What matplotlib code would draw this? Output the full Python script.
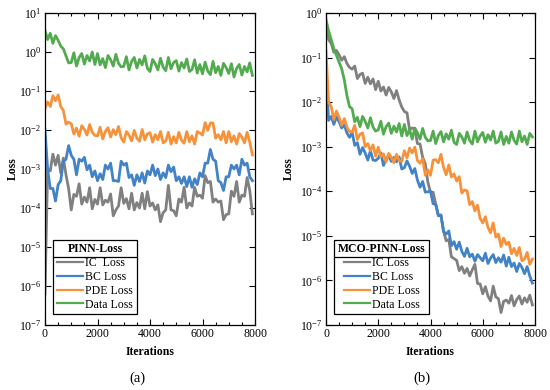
import numpy as np
import matplotlib
matplotlib.use("Agg")
import matplotlib.pyplot as plt
from matplotlib.ticker import LogLocator, LogFormatterSciNotation, MultipleLocator, NullLocator
from matplotlib.lines import Line2D

plt.rcParams['font.family'] = ['Liberation Serif', 'DejaVu Serif']
plt.rcParams['mathtext.fontset'] = 'stix'

# ---------------- data (log10 of loss) ----------------
iterations = np.arange(0, 8000, 100)

pinn_ic_log10 = [
    -6.2, -3.0, -3.05, -2.62, -2.9, -2.65, -3.1, -2.72, -3.15, -3.5,
    -4.05, -3.65, -3.7, -3.38, -3.9, -3.72, -3.85, -3.48, -4.02, -3.78,
    -3.9, -3.48, -3.92, -3.8, -3.85, -3.64, -4.2, -4.05, -3.95, -3.48,
    -3.88, -3.76, -4.02, -3.62, -4.05, -3.86, -4.0, -3.62, -4.02, -3.58,
    -3.95, -3.87, -4.05, -3.92, -4.35, -4.12, -4.05, -3.42, -4.05, -4.07,
    -4.2, -3.77, -3.85, -3.47, -4.0, -3.87, -3.95, -3.47, -3.7, -3.67,
    -3.75, -3.17, -3.35, -3.32, -3.85, -3.77, -3.85, -3.82, -4.3, -4.17,
    -4.15, -3.57, -3.7, -3.32, -3.85, -3.67, -3.7, -3.22, -3.55, -4.15]
pinn_bc_log10 = [
    -2.0, -3.0, -3.5, -3.5, -3.82, -3.4, -3.3, -2.8, -2.75, -2.4,
    -2.65, -2.75, -3.15, -2.75, -2.8, -2.7, -3.02, -2.9, -3.2, -3.05,
    -3.3, -3.12, -3.27, -2.9, -3.0, -2.85, -3.3, -3.3, -3.32, -2.8,
    -2.9, -2.85, -3.22, -3.15, -3.42, -3.15, -3.32, -3.1, -3.36, -3.05,
    -3.15, -2.9, -3.17, -3.0, -3.27, -3.1, -3.22, -2.9, -3.07, -2.95,
    -3.3, -3.2, -3.37, -3.2, -3.45, -3.2, -3.47, -3.25, -3.4, -3.1,
    -3.2, -2.85, -2.85, -2.5, -2.75, -2.8, -3.3, -3.35, -3.55, -3.2,
    -3.2, -2.9, -3.0, -2.9, -3.15, -2.75, -2.9, -2.85, -3.2, -3.3]
pinn_pde_log10 = [
    -1.45, -1.28, -1.4, -1.12, -1.25, -1.1, -1.4, -1.5, -1.85, -1.8,
    -1.84, -2.1, -1.95, -2.16, -1.89, -1.98, -2.13, -1.86, -2.06, -2.14,
    -2.15, -1.93, -2.23, -2.04, -1.94, -2.18, -1.99, -2.12, -1.91, -2.2,
    -2.31, -2.04, -2.13, -2.28, -2.01, -2.21, -2.29, -1.99, -2.25, -2.1,
    -2.07, -2.31, -2.12, -2.25, -2.04, -2.33, -2.28, -2.06, -2.36, -2.17,
    -2.33, -2.06, -2.26, -2.34, -2.04, -2.3, -2.15, -2.36, -2.04, -2.08,
    -2.13, -1.81, -2.01, -1.82, -1.82, -2.21, -2.12, -2.25, -2.04, -2.33,
    -2.04, -2.3, -2.15, -2.36, -2.09, -2.18, -2.33, -2.06, -2.31, -2.64]
pinn_data_log10 = [
    0.55, 0.32, 0.48, 0.22, 0.42, 0.3, 0.15, 0.08, -0.1, -0.28,
    -0.27, -0.02, -0.36, -0.14, -0.04, -0.31, -0.09, -0.23, 0.0, -0.32,
    -0.04, -0.33, -0.17, -0.4, -0.09, -0.2, -0.36, -0.06, -0.29, -0.38,
    -0.37, -0.12, -0.46, -0.24, -0.14, -0.41, -0.19, -0.33, -0.1, -0.42,
    -0.5, -0.19, -0.3, -0.46, -0.16, -0.39, -0.48, -0.14, -0.43, -0.27,
    -0.22, -0.49, -0.27, -0.41, -0.18, -0.5, -0.45, -0.2, -0.54, -0.32,
    -0.56, -0.26, -0.49, -0.58, -0.24, -0.53, -0.37, -0.6, -0.29, -0.4,
    -0.55, -0.3, -0.64, -0.42, -0.32, -0.59, -0.37, -0.51, -0.28, -0.6]

mco_ic_log10 = [
    -0.22, -0.6, -0.68, -0.88, -0.84, -0.94, -1.06, -0.98, -1.13, -1.22,
    -1.26, -1.19, -1.47, -1.38, -1.35, -1.58, -1.44, -1.59, -1.48, -1.72,
    -1.53, -1.75, -1.66, -1.84, -1.67, -1.77, -1.92, -1.74, -1.95, -2.11,
    -2.21, -2.24, -2.62, -2.58, -2.6, -2.93, -2.94, -3.24, -3.38, -3.8,
    -4.02, -4.02, -4.29, -4.55, -4.54, -4.9, -5.11, -5.08, -5.47, -5.51,
    -5.55, -5.78, -5.69, -5.84, -5.73, -5.9, -5.76, -5.64, -6.07, -6.08,
    -6.3, -6.14, -6.35, -6.46, -6.13, -6.37, -6.41, -6.72, -6.47, -6.44,
    -6.51, -6.34, -6.57, -6.43, -6.35, -6.53, -6.39, -6.49, -6.33, -6.55]
mco_bc_log10 = [
    -1.3, -2.41, -2.32, -2.5, -2.33, -2.44, -2.58, -2.51, -2.69, -2.79,
    -2.68, -2.97, -2.91, -3.17, -3.02, -3.14, -3.3, -3.09, -3.3, -3.31,
    -3.26, -3.14, -3.42, -3.28, -3.2, -3.33, -3.24, -3.34, -3.23, -3.5,
    -3.47, -3.32, -3.44, -3.6, -3.49, -3.75, -3.91, -3.78, -4.02, -4.01,
    -4.0, -4.28, -4.29, -4.54, -4.53, -4.9, -4.96, -4.89, -5.22, -5.13,
    -5.3, -5.14, -5.35, -5.46, -5.28, -5.47, -5.41, -5.57, -5.42, -5.49,
    -5.56, -5.39, -5.62, -5.5, -5.42, -5.6, -5.49, -5.59, -5.43, -5.68,
    -5.48, -5.69, -5.61, -5.8, -5.62, -5.71, -5.85, -5.69, -5.9, -6.06]
mco_pde_log10 = [
    -0.85, -2.0, -2.1, -2.39, -2.2, -2.34, -2.52, -2.37, -2.56, -2.66,
    -2.67, -2.52, -2.84, -2.72, -2.69, -3.0, -2.93, -3.09, -2.96, -3.21,
    -3.01, -3.23, -3.16, -3.34, -3.15, -3.24, -3.36, -3.17, -3.31, -3.33,
    -3.09, -3.25, -3.03, -3.14, -3.01, -3.31, -3.37, -3.27, -3.64, -3.52,
    -3.64, -3.3, -3.29, -3.36, -3.17, -3.46, -3.63, -3.41, -3.68, -3.61,
    -3.77, -3.67, -4.04, -3.97, -3.99, -4.3, -4.23, -4.44, -4.31, -4.61,
    -4.71, -4.57, -4.81, -4.93, -4.71, -5.03, -4.96, -5.24, -5.05, -5.19,
    -5.14, -5.4, -5.28, -5.44, -5.26, -5.56, -5.52, -5.37, -5.64, -5.52]
mco_data_log10 = [
    -0.15, -0.4, -0.6, -0.8, -0.95, -1.1, -1.25, -1.5, -1.85, -2.1,
    -2.15, -2.44, -2.34, -2.55, -2.32, -2.43, -2.58, -2.35, -2.56, -2.65,
    -2.62, -2.43, -2.72, -2.55, -2.47, -2.7, -2.54, -2.67, -2.48, -2.76,
    -2.5, -2.75, -2.62, -2.83, -2.58, -2.69, -2.83, -2.59, -2.79, -2.87,
    -2.86, -2.65, -2.93, -2.75, -2.66, -2.89, -2.71, -2.83, -2.63, -2.9,
    -2.95, -2.7, -2.78, -2.92, -2.67, -2.86, -2.94, -2.65, -2.89, -2.76,
    -2.68, -2.9, -2.73, -2.85, -2.65, -2.92, -2.88, -2.67, -2.95, -2.77,
    -2.92, -2.67, -2.86, -2.94, -2.65, -2.89, -2.76, -2.95, -2.7, -2.78]

series_labels_a = ['IC  Loss', 'BC Loss', 'PDE Loss', 'Data Loss']
series_labels_b = ['IC Loss', 'BC Loss', 'PDE Loss', 'Data Loss']
legend_titles = ['PINN-Loss', 'MCO-PINN-Loss']
captions = ['(a)', '(b)']

colors = ['#808080', '#4282c6', '#f8923a', '#52ab4f']

fig = plt.figure(figsize=(5.5, 3.9), dpi=100)
axA = fig.add_axes([45/550, 1-325/390, 210/550, 312/390])
axB = fig.add_axes([326/550, 1-325/390, 209/550, 312/390])

panels = [
    (axA, [pinn_ic_log10, pinn_bc_log10, pinn_pde_log10, pinn_data_log10], series_labels_a, (1e-7, 1e1), -0.125),
    (axB, [mco_ic_log10, mco_bc_log10, mco_pde_log10, mco_data_log10], series_labels_b, (1e-7, 1e0), -0.15),
]

legends = []
for i, (ax, sers, labels, ylim, ylx) in enumerate(panels):
    for s, lab, c in zip(sers, labels, colors):
        s = np.asarray(s)
        ax.plot(iterations[:len(s)], 10.0 ** s, color=c, lw=2.0, label=lab)
    ax.set_yscale('log')
    ax.set_ylim(*ylim)
    ax.set_xlim(0, 8000)
    ax.xaxis.set_major_locator(MultipleLocator(2000))
    ax.xaxis.set_minor_locator(MultipleLocator(500))
    ax.yaxis.set_major_locator(LogLocator(base=10, numticks=20))
    ax.yaxis.set_minor_locator(NullLocator())
    ax.yaxis.set_major_formatter(LogFormatterSciNotation())
    ax.tick_params(which='both', direction='in', top=True, right=True,
                   labelsize=8.5, width=0.8)
    ax.tick_params(which='major', length=4, pad=2.5)
    ax.tick_params(which='minor', length=2)
    for sp in ax.spines.values():
        sp.set_linewidth(0.9)
    ax.set_xlabel('Iterations', fontsize=8.5, fontweight='bold', labelpad=4)
    ax.set_ylabel('Loss', fontsize=8.5, fontweight='bold')
    ax.yaxis.set_label_coords(ylx, 0.5)
    leg = ax.legend(loc='lower left', bbox_to_anchor=(0.04, 0.035),
                    title=legend_titles[i], fontsize=8.5, frameon=True,
                    fancybox=False, edgecolor='black', framealpha=1,
                    handlelength=2.2, handletextpad=0.2, labelspacing=0.15,
                    borderpad=0.3, borderaxespad=0)
    leg.get_title().set_fontweight('bold')
    leg.get_title().set_fontsize(8.5)
    leg.get_frame().set_linewidth(0.9)
    for h in leg.get_lines():
        h.set_linewidth(1.6)
    legends.append((ax, leg))

fig.text(0.25, 1-378/390, captions[0], ha='center', va='center', fontsize=10.5)
fig.text(0.767, 1-378/390, captions[1], ha='center', va='center', fontsize=10.5)

fig.canvas.draw()
r = fig.canvas.get_renderer()
for ax, leg in legends:
    fb = leg.get_frame().get_window_extent(r)
    tb = leg.get_title().get_window_extent(r)
    ysep = tb.y0 - 2
    inv = fig.transFigure.inverted()
    (x0, y0) = inv.transform((fb.x0, ysep))
    (x1, _) = inv.transform((fb.x1, ysep))
    fig.add_artist(Line2D([x0, x1], [y0, y0], color='black', lw=0.9,
                          transform=fig.transFigure))

fig.savefig('out.png', dpi=100)
